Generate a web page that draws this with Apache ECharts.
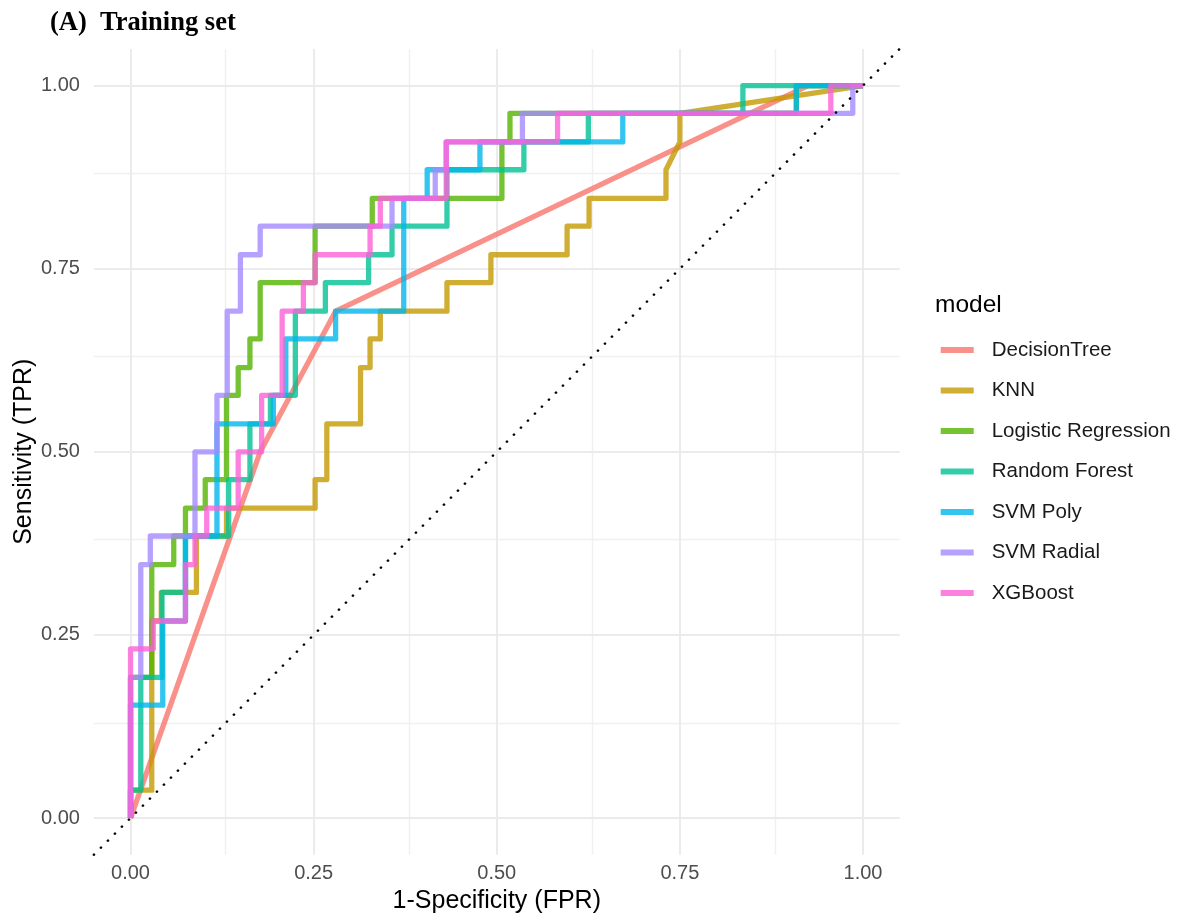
<!DOCTYPE html>
<html>
<head>
<meta charset="utf-8">
<script src="https://cdn.jsdelivr.net/npm/echarts@6/dist/echarts.min.js"></script>
<style>
  html, body { margin: 0; padding: 0; background: #ffffff; }
  #chart { width: 1184px; height: 920px; }
</style>
</head>
<body>
<div id="chart"></div>
<script>
// ROC curves on the training set, one per model: [FPR, TPR] vertices
const modelNames = ['DecisionTree', 'KNN', 'Logistic Regression', 'Random Forest', 'SVM Poly', 'SVM Radial', 'XGBoost'];
const modelColors = [
  'rgba(248,118,109,0.8)',
  'rgba(196,154,0,0.8)',
  'rgba(83,180,0,0.8)',
  'rgba(0,192,148,0.8)',
  'rgba(0,182,235,0.8)',
  'rgba(165,138,255,0.8)',
  'rgba(251,97,215,0.8)'
];
const tickValues = [0, 0.25, 0.5, 0.75, 1];
const minorGridValues = [0.125, 0.375, 0.625, 0.875];
const chanceLine = [[-0.05, -0.05], [1.05, 1.05]];

const rocDecisionTree = [[0, 0], [0.177, 0.5], [0.28, 0.692], [0.925, 1], [1, 1]];

const rocKNN = [
  [0, 0], [0, 0.038], [0.029, 0.038], [0.029, 0.269], [0.042, 0.269], [0.042, 0.308],
  [0.09, 0.308], [0.09, 0.385], [0.131, 0.385], [0.131, 0.423], [0.252, 0.423], [0.252, 0.462],
  [0.268, 0.462], [0.268, 0.538], [0.314, 0.538], [0.314, 0.615], [0.327, 0.615], [0.327, 0.654],
  [0.341, 0.654], [0.341, 0.692], [0.432, 0.692], [0.432, 0.731], [0.492, 0.731], [0.492, 0.769],
  [0.596, 0.769], [0.596, 0.808], [0.626, 0.808], [0.626, 0.846], [0.731, 0.846], [0.731, 0.885],
  [0.75, 0.923], [0.75, 0.962], [1, 1]
];

const rocLogistic = [
  [0, 0], [0, 0.192], [0.029, 0.192], [0.029, 0.346], [0.059, 0.346], [0.059, 0.385],
  [0.075, 0.385], [0.075, 0.423], [0.102, 0.423], [0.102, 0.462], [0.131, 0.462], [0.131, 0.577],
  [0.147, 0.577], [0.147, 0.615], [0.163, 0.615], [0.163, 0.654], [0.177, 0.654], [0.177, 0.731],
  [0.252, 0.731], [0.252, 0.808], [0.33, 0.808], [0.33, 0.846], [0.507, 0.846], [0.507, 0.923],
  [0.518, 0.923], [0.518, 0.962], [0.909, 0.962], [0.909, 1], [1, 1]
];

const rocRandomForest = [
  [0, 0], [0, 0.038], [0.014, 0.038], [0.014, 0.192], [0.043, 0.192], [0.043, 0.308],
  [0.075, 0.308], [0.075, 0.385], [0.134, 0.385], [0.134, 0.462], [0.163, 0.462], [0.163, 0.538],
  [0.191, 0.538], [0.191, 0.577], [0.225, 0.577], [0.225, 0.692], [0.266, 0.692], [0.266, 0.731],
  [0.325, 0.731], [0.325, 0.769], [0.357, 0.769], [0.357, 0.808], [0.432, 0.808], [0.432, 0.885],
  [0.537, 0.885], [0.537, 0.923], [0.625, 0.923], [0.625, 0.962], [0.836, 0.962], [0.836, 1], [1, 1]
];

const rocSvmPoly = [
  [0, 0], [0, 0.154], [0.044, 0.154], [0.044, 0.269], [0.075, 0.269], [0.075, 0.385],
  [0.118, 0.385], [0.118, 0.538], [0.195, 0.538], [0.195, 0.577], [0.212, 0.577], [0.212, 0.654],
  [0.28, 0.654], [0.28, 0.692], [0.373, 0.692], [0.373, 0.846], [0.405, 0.846], [0.405, 0.885],
  [0.477, 0.885], [0.477, 0.923], [0.672, 0.923], [0.672, 0.962], [0.909, 0.962], [0.909, 1], [1, 1]
];

const rocSvmRadial = [
  [0, 0], [0, 0.192], [0.014, 0.192], [0.014, 0.346], [0.027, 0.346], [0.027, 0.385],
  [0.088, 0.385], [0.088, 0.5], [0.118, 0.5], [0.118, 0.577], [0.132, 0.577], [0.132, 0.692],
  [0.15, 0.692], [0.15, 0.769], [0.177, 0.769], [0.177, 0.808], [0.357, 0.808], [0.357, 0.846],
  [0.416, 0.846], [0.416, 0.885], [0.431, 0.885], [0.431, 0.923], [0.535, 0.923], [0.535, 0.962],
  [0.986, 0.962], [0.986, 1], [1, 1]
];

const rocXGBoost = [
  [0, 0], [0, 0.231], [0.031, 0.231], [0.031, 0.269], [0.075, 0.269], [0.075, 0.346],
  [0.088, 0.346], [0.088, 0.385], [0.104, 0.385], [0.104, 0.423], [0.147, 0.423], [0.147, 0.5],
  [0.179, 0.5], [0.179, 0.577], [0.207, 0.577], [0.207, 0.692], [0.236, 0.692], [0.236, 0.731],
  [0.252, 0.731], [0.252, 0.769], [0.327, 0.769], [0.327, 0.808], [0.341, 0.808], [0.341, 0.846],
  [0.431, 0.846], [0.431, 0.923], [0.583, 0.923], [0.583, 0.962], [0.956, 0.962], [0.956, 1], [1, 1]
];

const rocCurves = [rocDecisionTree, rocKNN, rocLogistic, rocRandomForest, rocSvmPoly, rocSvmRadial, rocXGBoost];

const FONT = '"Liberation Sans", Arial, Helvetica, sans-serif';
const chart = echarts.init(document.getElementById('chart'), null, { renderer: 'canvas' });

function gridLines(values, axis) {
  return values.map(v => ({ [axis]: v }));
}

// panel grid lines sit underneath every curve
function gridSeries(name, values, color, width) {
  return {
    name: name, type: 'line', data: [], silent: true, z: 1,
    markLine: {
      silent: true, symbol: 'none', label: { show: false }, animation: false, z: 1,
      emphasis: { disabled: true },
      lineStyle: { color: color, width: width, type: 'solid' },
      data: gridLines(values, 'xAxis').concat(gridLines(values, 'yAxis'))
    }
  };
}

const curveSeries = modelNames.map((name, i) => ({
  name: name,
  type: 'line',
  data: rocCurves[i],
  showSymbol: false,
  symbol: 'none',
  clip: true,
  z: 6,
  color: modelColors[i],
  lineStyle: { width: 5.3, color: modelColors[i], join: 'round', cap: 'butt' },
  emphasis: { disabled: true }
}));

const option = {
  animation: false,
  backgroundColor: '#ffffff',
  graphic: [
    {
      type: 'text', left: 50, top: 10,
      style: { text: '(A)  Training set', font: 'bold 26.5px "Liberation Serif", "Times New Roman", serif', fill: '#000' }
    },
    {
      type: 'text', left: 935, top: 293,
      style: { text: 'model', font: '24.5px ' + FONT, fill: '#000' }
    }
  ],
  grid: {
    left: 93.9, top: 48.9, width: 805.75, height: 805.75,
    containLabel: false, outerBoundsMode: 'none'
  },
  xAxis: {
    type: 'value', min: -0.05, max: 1.05,
    name: '1-Specificity (FPR)', nameLocation: 'middle', nameGap: 34, nameMoveOverlap: false,
    nameTextStyle: { fontFamily: FONT, fontSize: 25, color: '#000' },
    axisLine: { show: false }, axisTick: { show: false }, splitLine: { show: false },
    axisLabel: {
      customValues: tickValues, formatter: v => v.toFixed(2),
      fontFamily: FONT, fontSize: 20, color: '#4d4d4d', margin: 9
    }
  },
  yAxis: {
    type: 'value', min: -0.05, max: 1.05,
    name: 'Sensitivity (TPR)', nameLocation: 'middle', nameGap: 57, nameRotate: 90, nameMoveOverlap: false,
    nameTextStyle: { fontFamily: FONT, fontSize: 25, color: '#000' },
    axisLine: { show: false }, axisTick: { show: false }, splitLine: { show: false },
    axisLabel: {
      customValues: tickValues, formatter: v => v.toFixed(2),
      fontFamily: FONT, fontSize: 20, color: '#4d4d4d', margin: 14
    }
  },
  legend: {
    data: modelNames,
    orient: 'vertical',
    left: 940.7, top: 339, padding: 0,
    icon: 'rect', itemWidth: 33, itemHeight: 6, itemGap: 18.5,
    selectedMode: false,
    textStyle: { fontFamily: FONT, fontSize: 20.5, color: '#1a1a1a', lineHeight: 22, padding: [0, 0, 0, 13] }
  },
  series: [
    gridSeries('gridMinor', minorGridValues, '#f0f0f0', 1.4),
    gridSeries('gridMajor', tickValues, '#ebebeb', 2),
    ...curveSeries,
    {
      name: 'chance', type: 'line', data: chanceLine, showSymbol: false, symbol: 'none', z: 7,
      silent: true, emphasis: { disabled: true },
      lineStyle: { color: '#000000', width: 2.6, type: [0.1, 9.8], cap: 'round' }
    }
  ]
};

chart.setOption(option);
</script>
</body>
</html>
